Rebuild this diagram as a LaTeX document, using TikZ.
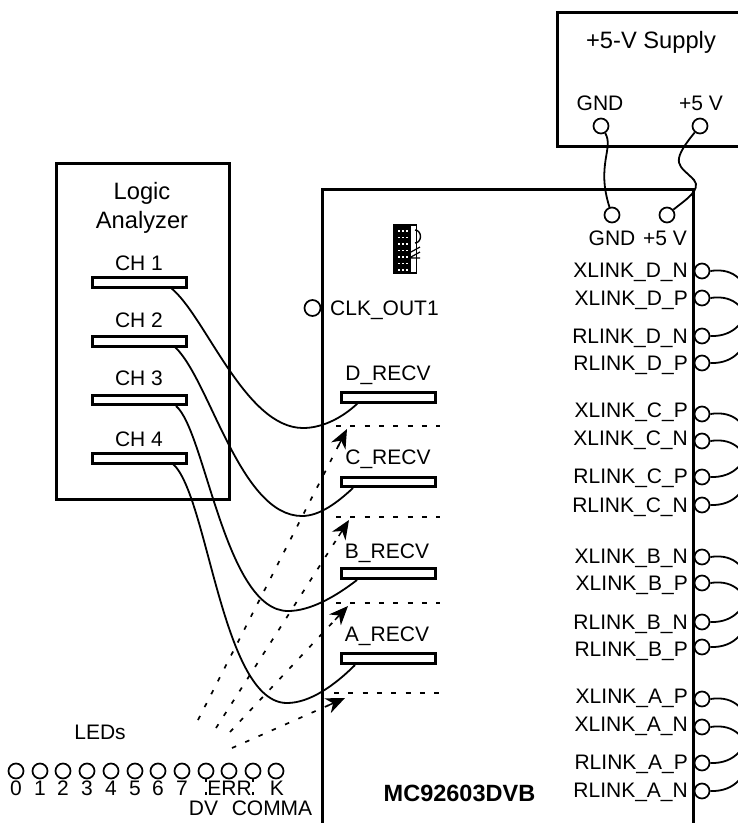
\documentclass[tikz,border=0pt]{standalone}
\usepackage{fontspec}
\setmainfont{Liberation Sans}
\usetikzlibrary{arrows.meta,calc}
\tikzset{
  box/.style={draw,line width=3pt,fill=white},
  wire/.style={line width=1.8pt},
  bar/.style={draw,line width=3pt,fill=white,minimum width=94.5pt,minimum height=9.5pt,inner sep=0pt},
  pin/.style={circle,draw,line width=1.7pt,minimum size=15pt,inner sep=0pt},
  txt/.style={inner sep=0pt,text height=15pt,text depth=0pt,font=\fontsize{21}{22}\selectfont},
  big/.style={inner sep=0pt,text height=15pt,text depth=0pt,font=\fontsize{23.7}{25}\selectfont},
  lab/.style={txt,anchor=east},
  dotline/.style={line width=2.2pt,dash pattern=on 5pt off 9.3pt},
  ptr/.style={line width=1.7pt,dash pattern=on 4.5pt off 10pt},
  tip/.style={line width=1.5pt,-{Stealth[length=19pt,width=16pt,inset=6pt]}}
}
\begin{document}
\begin{tikzpicture}[x=1pt,y=-1pt]
\clip (0,0) rectangle (738,823);
\fill[white] (0,0) rectangle (738,823);
% boxes
\draw[line width=3pt] (800,12) -- (557,12) -- (557,146) -- (800,146);
\draw[line width=3pt] (322,850) -- (322,189) -- (693,189) -- (693,850);
\node[box,minimum width=173pt,minimum height=336pt,inner sep=0pt] (la) at (142.5,331) {};
% titles
\node[big] (supply) at (651,41) {+5-V Supply};
\node[big] (logic) at (142,192) {Logic};
\node[big] (analyzer) at (142,221) {Analyzer};
\node[txt] (sg) at (600,103) {GND};
\node[txt] (sv) at (701,103) {+5 V};
\node[pin] (sgp) at (601,126) {};
\node[pin] (svp) at (700,126) {};
\node[pin] (bgp) at (612,215) {};
\node[pin] (bvp) at (667,215) {};
\node[txt] (bg) at (612,238) {GND};
\node[txt] (bv) at (665,238) {+5 V};
\draw[wire] (sgp) .. controls (614,148) and (596,165) .. (bgp);
\draw[wire] (svp) .. controls (668,165) and (680,165) .. (694,180) .. controls (702,190) and (685,200) .. (bvp);
% connector block
\fill (394,225) rectangle (411,273);
\draw[line width=1.4pt] (394,225) rectangle (416.5,273);
\draw[line width=1.4pt] (415,230) arc (-90:90:5.5 and 6.5) ;
\draw[line width=1.2pt] (411,252) -- (420,247) (411,257) -- (420,252) (411,258) -- (420,258);
\foreach \xx in {398,402,406} \foreach \yy in {230,236.5,243,249.5,256,262.5,269}
  \fill[white] (\xx,\yy) rectangle +(1.8,1.8);
% channels
\foreach \n/\y in {ch1/282.5,ch2/341.5,ch3/400,ch4/458.5}{
  \node[bar] (\n) at (139.5,\y) {};
}
\node[txt] (l1) at (139,263) {CH 1};
\node[txt] (l2) at (139,320) {CH 2};
\node[txt] (l3) at (139,378) {CH 3};
\node[txt] (l4) at (139,439) {CH 4};
% receivers
\node[bar] (d) at (388.5,397.5) {};
\node[bar] (c) at (388.5,482) {};
\node[bar] (b) at (388.5,573.5) {};
\node[bar] (a) at (388.5,658.5) {};
\node[txt] (dl) at (388,373) {D\_RECV};
\node[txt] (cl) at (388,457) {C\_RECV};
\node[txt] (bl) at (387,551) {B\_RECV};
\node[txt] (al) at (387,634) {A\_RECV};
% dotted lines
\coordinate (dd1) at (336,426); \coordinate (dd2) at (440,426);
\coordinate (dc1) at (336,517); \coordinate (dc2) at (440,517);
\coordinate (db1) at (336,603); \coordinate (db2) at (440,603);
\coordinate (da1) at (334,693); \coordinate (da2) at (440,693);
\draw[dotline] (dd1) -- (dd2);
\draw[dotline] (dc1) -- (dc2);
\draw[dotline] (db1) -- (db2);
\draw[dotline] (da1) -- (da2);
% pointers
\coordinate (o1) at (198,720); \coordinate (t1) at (347,429);
\coordinate (o2) at (216,728); \coordinate (t2) at (349,520);
\coordinate (o3) at (230,732); \coordinate (t3) at (348,606);
\coordinate (o4) at (232,748); \coordinate (t4) at (345,698);
\draw[ptr] (o1) -- ($(t1)!18pt!(o1)$);
\draw[ptr] (o2) -- ($(t2)!18pt!(o2)$);
\draw[ptr] (o3) -- ($(t3)!18pt!(o3)$);
\draw[ptr] (o4) -- ($(t4)!18pt!(o4)$);
\draw[tip] ($(t1)!19pt!(o1)$) -- (t1);
\draw[tip] ($(t2)!19pt!(o2)$) -- (t2);
\draw[tip] ($(t3)!19pt!(o3)$) -- (t3);
\draw[tip] ($(t4)!19pt!(o4)$) -- (t4);
% logic wires
\draw[wire] (171,288) .. controls (205,315) and (245,428) .. (303,428) .. controls (320,428) and (340,420) .. (358,403);
\draw[wire] (175,347) .. controls (210,380) and (240,516) .. (302,516) .. controls (320,516) and (338,502) .. (353,488);
\draw[wire] (176,406) .. controls (205,430) and (225,611) .. (288,611) .. controls (310,611) and (335,597) .. (357,580);
\draw[wire] (173,464) .. controls (208,495) and (222,703) .. (287,703) .. controls (310,703) and (335,685) .. (355,665);
% CLK
\node[pin,minimum size=16pt] (clkp) at (312.5,308) {};
\node[txt,anchor=west] (clk) at (330,308) {CLK\_OUT1};
% right pins
\foreach \n/\y/\ty/\t in {
 xdn/271/270/XLINK\_D\_N, xdp/298/298/XLINK\_D\_P, rdn/336/336/RLINK\_D\_N, rdp/363/363/RLINK\_D\_P,
 xcp/414/410/XLINK\_C\_P, xcn/441/438/XLINK\_C\_N, rcp/477/476/RLINK\_C\_P, rcn/505/505/RLINK\_C\_N,
 xbn/557/556/XLINK\_B\_N, xbp/583/583/XLINK\_B\_P, rbn/622/622/RLINK\_B\_N, rbp/647/649/RLINK\_B\_P,
 xap/699/696/XLINK\_A\_P, xan/727/724/XLINK\_A\_N, rap/763/762/RLINK\_A\_P, ran/791/790/RLINK\_A\_N}{
  \node[pin] (\n) at (702,\y) {};
  \node[lab] (\n l) at (688,\ty) {\t};
}
\foreach \p/\q in {xdn/rdn,xdp/rdp,xcp/rcp,xcn/rcn,xbn/rbn,xbp/rbp,xap/rap,xan/ran}{
  \draw[wire] (\p.east) .. controls +(50,-8) and +(50,2) ..  (\q.east);
}
% LEDs
\foreach \n/\x in {0/16,1/40,2/63,3/87,4/111,5/135,6/158,7/182}{
  \node[pin] (led\n) at (\x,771) {};
  \node[txt] (ledl\n) at (\x,788) {\n};
}
\node[pin] (leddv) at (206,771) {};
\node[pin] (lederr) at (229,771) {};
\node[pin] (ledcom) at (253,771) {};
\node[pin] (ledk) at (276,771) {};
\node[txt] (err) at (229.5,788) {ERR};
\node[txt] (k) at (277,788) {K};
\node[txt] (dv) at (203.5,808) {DV};
\node[txt] (comma) at (272,808) {COMMA};
\node[txt] (leds) at (100,732) {LEDs};
\coordinate (dve) at (206,796); \coordinate (come) at (253,796);
\draw[line width=2.2pt,dash pattern=on 3pt off 10pt] (leddv.south) -- (dve);
\draw[line width=2.2pt,dash pattern=on 3pt off 10pt] (ledcom.south) -- (come);
\node[txt,font=\fontsize{23.5}{25}\selectfont\bfseries] (mc) at (459.5,794) {MC92603DVB};
\end{tikzpicture}
\end{document}
